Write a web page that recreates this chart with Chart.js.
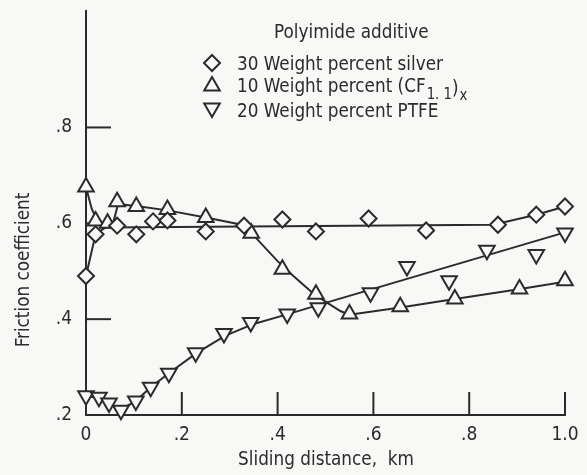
<!DOCTYPE html>
<html><head><meta charset="utf-8">
<script src="https://cdn.jsdelivr.net/npm/chart.js@4.4.1/dist/chart.umd.min.js"></script>
<style>html,body{margin:0;padding:0;background:#f8f8f6;}#wrap{width:587px;height:475px;}</style>
</head><body><div id="wrap"><canvas id="c" width="587" height="475"></canvas></div>
<script>
// ---- data ----
const xTickValues = [0, 0.2, 0.4, 0.6, 0.8, 1.0];
const xTickLabels = ['0', '.2', '.4', '.6', '.8', '1.0'];
const yTickValues = [0.2, 0.4, 0.6, 0.8];
const yTickLabels = ['.2', '.4', '.6', '.8'];

const seriesNames = ['30 Weight percent silver', '10 Weight percent (CF1.1)x', '20 Weight percent PTFE'];

const silverX = [0, 0.02, 0.065, 0.105, 0.14, 0.17, 0.25, 0.33, 0.41, 0.48, 0.59, 0.71, 0.86, 0.94, 1.0];
const silverY = [0.49, 0.577, 0.595, 0.577, 0.604, 0.606, 0.583, 0.595, 0.608, 0.583, 0.61, 0.585, 0.597, 0.618, 0.635];

const cfX = [0, 0.02, 0.045, 0.065, 0.105, 0.17, 0.25, 0.345, 0.41, 0.48, 0.55, 0.656, 0.77, 0.905, 1.0];
const cfY = [0.676, 0.605, 0.6, 0.645, 0.635, 0.629, 0.612, 0.579, 0.504, 0.452, 0.411, 0.426, 0.442, 0.463, 0.48];

const ptfeX = [0, 0.027, 0.048, 0.073, 0.104, 0.135, 0.173, 0.229, 0.288, 0.344, 0.42, 0.485, 0.594, 0.67, 0.758, 0.837, 0.94, 1.0];
const ptfeY = [0.24, 0.237, 0.225, 0.21, 0.229, 0.258, 0.287, 0.33, 0.37, 0.393, 0.411, 0.424, 0.455, 0.51, 0.48, 0.544, 0.535, 0.58];

// faired curves drawn through the data in the reference
const silverCurveX = [0, 0.02, 0.04, 0.85, 0.94, 1.0];
const silverCurveY = [0.49, 0.577, 0.591, 0.597, 0.618, 0.635];
const cfCurveX = [0, 0.012, 0.025, 0.055, 0.067, 0.105, 0.17, 0.25, 0.32, 0.345, 0.4, 0.433, 0.475, 0.504, 0.531, 0.55, 0.66, 0.77, 0.9, 1.0];
const cfCurveY = [0.676, 0.63, 0.603, 0.595, 0.64, 0.636, 0.627, 0.612, 0.598, 0.58, 0.521, 0.49, 0.453, 0.434, 0.417, 0.409, 0.425, 0.442, 0.462, 0.478];
const ptfeCurveX = [0, 0.027, 0.05, 0.073, 0.104, 0.135, 0.173, 0.229, 0.29, 0.35, 0.42, 0.5, 1.0];
const ptfeCurveY = [0.24, 0.235, 0.222, 0.212, 0.229, 0.258, 0.287, 0.328, 0.365, 0.39, 0.41, 0.434, 0.581];

// ---- styling ----
const BG = '#f8f8f6';
const INK = '#2b2b2b';
const FAMILY = '"Liberation Sans Narrow", "DejaVu Sans Condensed", sans-serif';
const FS = 19;           // tall condensed lettering as in the reference
const SUB = 15;

// horizontal compression so that a legend row has the reference width
const mc = document.createElement('canvas').getContext('2d');
mc.font = FS + 'px ' + FAMILY;
const K = Math.min(1, 206 / mc.measureText(seriesNames[0]).width);

const pts = (xs, ys) => xs.map((v, i) => ({x: v, y: ys[i]}));

function markerSet(xs, ys, style, r, rot) {
  return {data: pts(xs, ys), showLine: false, pointStyle: style, pointRadius: r, pointHoverRadius: r,
    pointRotation: rot, pointBorderWidth: 2, pointBorderColor: INK, pointBackgroundColor: BG, order: 0, clip: false};
}
function curveSet(xs, ys) {
  return {data: pts(xs, ys), showLine: true, borderColor: INK, borderWidth: 2, pointRadius: 0,
    pointHoverRadius: 0, tension: 0, fill: false, order: 1, clip: false};
}

// draw text horizontally condensed; returns advance width
function txt(ctx, s, x, y, size, align) {
  ctx.font = size + 'px ' + FAMILY;
  const w = ctx.measureText(s).width * K;
  let x0 = x;
  if (align === 'center') x0 = x - w / 2;
  ctx.save(); ctx.translate(x0, y); ctx.scale(K, 1); ctx.textAlign = 'left'; ctx.fillText(s, 0, 0); ctx.restore();
  return w;
}

const decor = {
  id: 'decor',
  beforeDatasetsDraw(chart) {
    const {ctx, chartArea: a, scales: {x, y}} = chart;
    ctx.save();
    ctx.strokeStyle = INK; ctx.lineWidth = 2;
    xTickValues.forEach(v => { if (v === 0) return; const px = x.getPixelForValue(v);
      ctx.beginPath(); ctx.moveTo(px, a.bottom); ctx.lineTo(px, a.bottom - 23); ctx.stroke(); });
    yTickValues.forEach(v => { if (v === 0.2) return; const py = y.getPixelForValue(v);
      ctx.beginPath(); ctx.moveTo(a.left, py); ctx.lineTo(a.left + 25, py); ctx.stroke(); });
    ctx.restore();
  },
  afterDraw(chart) {
    const {ctx} = chart;
    ctx.save();
    ctx.fillStyle = INK;
    ctx.textBaseline = 'alphabetic';
    // axis titles
    txt(ctx, 'Sliding distance,  km', 326, 465, FS, 'center');
    ctx.save(); ctx.translate(29, 270); ctx.rotate(-Math.PI / 2);
    txt(ctx, 'Friction coefficient', 0, 0, FS, 'center'); ctx.restore();
    // legend
    txt(ctx, 'Polyimide additive', 274, 38, FS);
    const styles = [['rectRot', 8, 0, 63], ['triangle', 9, 0, 86], ['triangle', 9, 180, 108]];
    styles.forEach((s) => {
      const [ps, r, rot, cy] = s;
      ctx.strokeStyle = INK; ctx.lineWidth = 2; ctx.fillStyle = BG;
      Chart.helpers.drawPoint(ctx, {pointStyle: ps, radius: r, rotation: rot, borderWidth: 2}, 212, cy);
      ctx.fillStyle = INK;
    });
    const rows = [70, 92, 117];
    txt(ctx, '30 Weight percent silver', 237, rows[0], FS);
    let xx = 237 + txt(ctx, '10 Weight percent (CF', 237, rows[1], FS);
    xx += txt(ctx, '1. 1', xx + 1, rows[1] + 7, SUB) + 1;
    xx += txt(ctx, ')', xx, rows[1] + 2, FS);
    txt(ctx, 'x', xx + 1, rows[1] + 8, SUB);
    txt(ctx, '20 Weight percent PTFE', 237, rows[2], FS);
    ctx.restore();
  }
};

new Chart(document.getElementById('c'), {
  type: 'scatter',
  data: {datasets: [
    markerSet(silverX, silverY, 'rectRot', 8, 0),
    markerSet(cfX, cfY, 'triangle', 9, 0),
    markerSet(ptfeX, ptfeY, 'triangle', 9, 180),
    curveSet(silverCurveX, silverCurveY),
    curveSet(cfCurveX, cfCurveY),
    curveSet(ptfeCurveX, ptfeCurveY)
  ]},
  options: {
    responsive: false, animation: false, devicePixelRatio: 1,
    layout: {padding: {left: 0, right: 22, top: 7, bottom: 0}},
    plugins: {legend: {display: false}, tooltip: {enabled: false}},
    events: [],
    scales: {
      x: {type: 'linear', min: 0, max: 1.0,
        afterBuildTicks: s => { s.ticks = xTickValues.map(v => ({value: v})); },
        afterFit: s => { s.height = 60; s.paddingLeft = 0; s.paddingRight = 0; },
        ticks: {callback: (v) => xTickLabels[xTickValues.indexOf(v)] ?? '', color: INK, padding: 9,
          font: {family: FAMILY, size: FS}, maxRotation: 0, autoSkip: false},
        grid: {display: false, drawTicks: false},
        border: {display: true, color: INK, width: 2}},
      y: {type: 'linear', min: 0.2, max: 1.043,
        afterBuildTicks: s => { s.ticks = yTickValues.map(v => ({value: v})); },
        afterFit: s => { s.width = 86; s.paddingTop = 0; s.paddingBottom = 0; },
        ticks: {callback: (v) => yTickLabels[yTickValues.indexOf(v)] ?? '', color: INK, padding: 14,
          font: {family: FAMILY, size: FS}, autoSkip: false},
        grid: {display: false, drawTicks: false},
        border: {display: true, color: INK, width: 2}}
    }
  },
  plugins: [decor]
});
</script></body></html>
